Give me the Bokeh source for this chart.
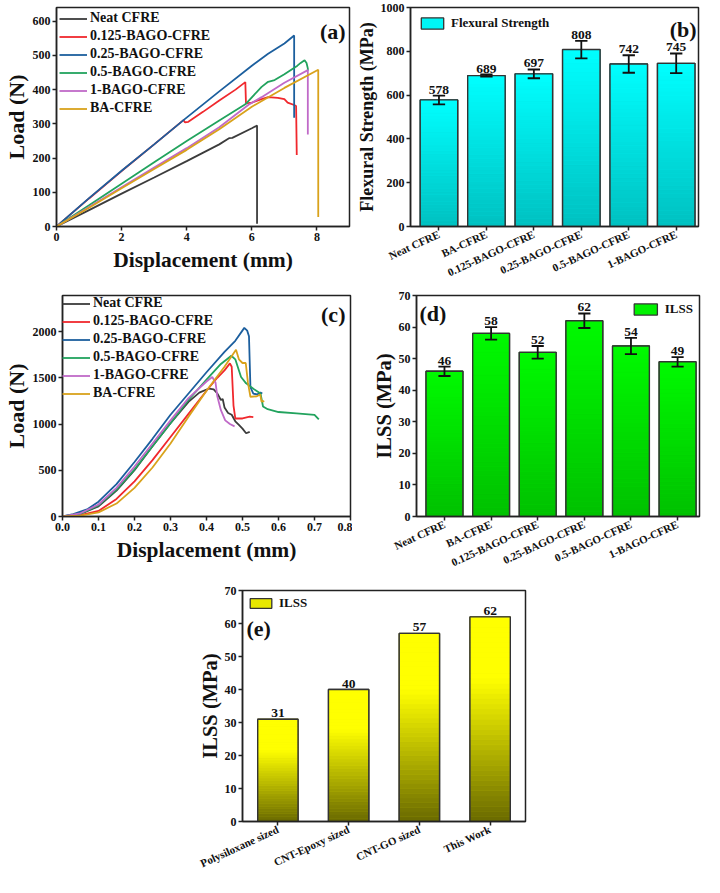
from bokeh.plotting import figure
from bokeh.layouts import column, row
from bokeh.models import (Range1d, FixedTicker, Legend, LegendItem, Label, NumeralTickFormatter)
from bokeh.embed import file_html
from bokeh.resources import INLINE
from bokeh.core.properties import value

FONT = "Liberation Serif"
FONT_V = value(FONT)

# ---------------- data: panel (a) three-point bending ----------------
a_names = ["Neat CFRE", "0.125-BAGO-CFRE", "0.25-BAGO-CFRE", "0.5-BAGO-CFRE", "1-BAGO-CFRE", "BA-CFRE"]
neat_a_x = [0, 1, 2, 3, 4, 5.0, 5.25, 5.3, 5.4, 6.0, 6.16, 6.16]
neat_a_y = [0, 48, 96, 143, 191, 240, 255, 258, 259, 287, 295, 8]
r125_a_x = [0, 1, 2, 3, 3.9, 3.95, 4.05, 4.5, 5.0, 5.5, 5.8, 5.82, 6.0, 6.3, 6.5, 6.8, 7.0, 7.1, 7.3, 7.36, 7.38]
r125_a_y = [0, 82, 162, 240, 311, 304, 306, 335, 368, 400, 422, 360, 362, 372, 378, 376, 372, 362, 355, 352, 209]
r25_a_x = [0, 1, 2, 3, 3.93, 5, 6, 6.5, 7.0, 7.30, 7.30]
r25_a_y = [0, 83, 163, 240, 313, 395, 470, 505, 535, 558, 318]
r5_a_x = [0, 1, 2, 3, 4, 5, 5.8, 6.3, 6.5, 6.7, 7.0, 7.4, 7.5, 7.62, 7.68, 7.72, 7.72]
r5_a_y = [0, 62, 125, 188, 250, 310, 357, 408, 423, 428, 445, 470, 478, 486, 478, 462, 455]
r1_a_x = [0, 1, 2, 3, 4, 5, 5.9, 6.3, 7.0, 7.72, 7.72]
r1_a_y = [0, 57, 115, 172, 229, 290, 356, 378, 420, 457, 269]
ba_a_x = [0, 1, 2, 3, 4, 5, 6, 7, 8.04, 8.04]
ba_a_y = [0, 55, 112, 168, 224, 284, 350, 405, 458, 28]

# ---------------- data: panel (c) short-beam shear ----------------
neat_c_x = [0, 0.03, 0.06, 0.1, 0.15, 0.2, 0.25, 0.3, 0.35, 0.38, 0.407, 0.42, 0.43, 0.44, 0.445, 0.45, 0.46, 0.47, 0.48, 0.49, 0.5, 0.51, 0.52]
neat_c_y = [0, 15, 45, 110, 280, 500, 760, 1010, 1240, 1340, 1384, 1375, 1330, 1260, 1270, 1180, 1120, 1100, 1030, 990, 950, 900, 915]
r125_c_x = [0, 0.05, 0.1, 0.15, 0.2, 0.25, 0.3, 0.35, 0.4, 0.43, 0.45, 0.465, 0.47, 0.475, 0.48, 0.5, 0.52, 0.53]
r125_c_y = [0, 15, 60, 190, 380, 610, 860, 1110, 1360, 1500, 1580, 1656, 1620, 1200, 1060, 1060, 1080, 1075]
r25_c_x = [0, 0.03, 0.07, 0.1, 0.15, 0.2, 0.25, 0.3, 0.35, 0.4, 0.45, 0.48, 0.505, 0.513, 0.518, 0.522, 0.53, 0.54, 0.55, 0.555]
r25_c_y = [0, 25, 80, 160, 350, 590, 840, 1100, 1330, 1560, 1780, 1900, 2040, 2010, 1950, 1400, 1330, 1320, 1340, 1330]
r5_c_x = [0, 0.05, 0.1, 0.15, 0.2, 0.25, 0.3, 0.35, 0.4, 0.44, 0.469, 0.48, 0.496, 0.51, 0.531, 0.55, 0.557, 0.57, 0.6, 0.65, 0.7, 0.712]
r5_c_y = [0, 30, 120, 290, 510, 760, 1010, 1260, 1480, 1650, 1738, 1700, 1508, 1440, 1380, 1330, 1190, 1160, 1130, 1115, 1100, 1050]
r1_c_x = [0, 0.05, 0.1, 0.15, 0.2, 0.25, 0.3, 0.35, 0.4, 0.416, 0.425, 0.43, 0.44, 0.452, 0.465, 0.478]
r1_c_y = [0, 35, 130, 310, 540, 790, 1040, 1280, 1460, 1508, 1450, 1300, 1150, 1040, 1000, 975]
ba_c_x = [0, 0.05, 0.1, 0.15, 0.2, 0.25, 0.3, 0.35, 0.4, 0.45, 0.482, 0.49, 0.5, 0.509, 0.515, 0.522, 0.54, 0.549, 0.553, 0.557, 0.56]
ba_c_y = [0, 10, 45, 140, 310, 530, 790, 1080, 1360, 1620, 1803, 1700, 1660, 1660, 1450, 1295, 1300, 1320, 1240, 1250, 1240]

line_colors = ["#3c3c3c", "#f0282d", "#1c5f9e", "#22a35e", "#c06ac8", "#d9a21b"]

# ---------------- data: bar panels ----------------
b_cats = ["Neat CFRE", "BA-CFRE", "0.125-BAGO-CFRE", "0.25-BAGO-CFRE", "0.5-BAGO-CFRE", "1-BAGO-CFRE"]
b_vals = [578, 689, 697, 808, 742, 745]
b_err = [20, 5, 20, 40, 40, 45]
d_vals = [46, 58, 52, 62, 54, 49]
d_err = [1.5, 2, 2, 2.3, 2.6, 1.5]
e_cats = ["Polysiloxane sized", "CNT-Epoxy sized", "CNT-GO sized", "This Work"]
e_vals = [31, 40, 57, 62]


def make_fig(w, h, lb, rb, tb, bb, xr, yr):
    p = figure(width=w, height=h, min_border_left=lb, min_border_right=rb,
               min_border_top=tb, min_border_bottom=bb,
               x_range=Range1d(*xr), y_range=Range1d(*yr),
               output_backend="svg", toolbar_location=None)
    p.grid.visible = False
    p.outline_line_color = "#222222"
    p.outline_line_width = 1.5
    p.outline_line_alpha = 1.0
    p.background_fill_color = "white"
    p.border_fill_color = "white"
    for ax in p.axis:
        ax.axis_line_width = 1.5
        ax.axis_line_color = "#222222"
        ax.major_tick_line_width = 1.5
        ax.major_tick_line_color = "#222222"
        ax.major_tick_out = 4
        ax.major_tick_in = 0
        ax.minor_tick_line_color = None
        ax.major_label_text_font = FONT
        ax.major_label_text_font_style = "bold"
        ax.major_label_text_font_size = "12px"
        ax.major_label_text_color = "#111111"
        ax.major_label_standoff = 2
        ax.axis_label_text_font = FONT
        ax.axis_label_text_font_style = "bold"
        ax.axis_label_text_color = "#111111"
        ax.axis_label_standoff = 1
    return p


def panel_label(p, text, x, y, align="right"):
    p.add_layout(Label(x=x, y=y, text=text, text_font=FONT, text_font_style="bold",
                       text_font_size="22px", text_align=align, text_baseline="top",
                       text_color="#111111"))


def line_panel(p, series, margin):
    items = []
    for (name, xs, ys), col in zip(series, line_colors):
        r = p.line(xs, ys, line_color=col, line_width=1.8)
        items.append(LegendItem(label=name, renderers=[r]))
    leg = Legend(items=items, location="top_left", border_line_alpha=0, background_fill_alpha=0,
                 label_text_font=FONT, label_text_font_style="bold", label_text_font_size="14px",
                 label_text_color="#111111", glyph_width=28, glyph_height=15, label_height=15,
                 spacing=2, padding=0, margin=margin, label_standoff=3)
    p.add_layout(leg)


def lerp_col(c0, c1, f):
    return "#%02x%02x%02x" % tuple(int(round(c0[i] + (c1[i] - c0[i]) * f)) for i in range(3))


def bar_panel(p, cats, vals, width, c0, c1, knee, leg_label, leg_loc, leg_margin, gw, gh, errs=None):
    xs = list(range(len(cats)))
    mid = lerp_col(c0, c1, 0.85)
    base = p.quad(left=[x - width / 2 for x in xs], right=[x + width / 2 for x in xs],
                  bottom=0, top=vals, fill_color=mid, line_color="#333333", line_width=1.3)
    n = 40
    L, R, B, T, C = [], [], [], [], []
    for x, v in zip(xs, vals):
        for k in range(n):
            L.append(x - width / 2)
            R.append(x + width / 2)
            B.append(v * k / n)
            T.append(v * (k + 1) / n)
            C.append(lerp_col(c0, c1, min(1.0, ((k + 0.5) / n) / knee)))
    p.quad(left=L, right=R, bottom=B, top=T, fill_color=C, line_color=C, line_width=0.6)
    p.quad(left=[x - width / 2 for x in xs], right=[x + width / 2 for x in xs],
           bottom=0, top=vals, fill_color=None, line_color="#333333", line_width=1.4)
    if errs is not None:
        lo = [v - e for v, e in zip(vals, errs)]
        hi = [v + e for v, e in zip(vals, errs)]
        cw = 0.13
        p.segment(x0=xs, y0=lo, x1=xs, y1=hi, line_color="#111111", line_width=1.8)
        p.segment(x0=[x - cw for x in xs], y0=hi, x1=[x + cw for x in xs], y1=hi, line_color="#111111", line_width=1.8)
        p.segment(x0=[x - cw for x in xs], y0=lo, x1=[x + cw for x in xs], y1=lo, line_color="#111111", line_width=1.8)
        tops = hi
    else:
        tops = vals
    p.text(x=xs, y=tops, text=[str(v) for v in vals], text_font=FONT_V, text_font_style="bold",
           text_font_size="13.5px", text_align="center", text_baseline="bottom", y_offset=-2,
           text_color="#111111")
    leg = Legend(items=[LegendItem(label=leg_label, renderers=[base])], location=leg_loc,
                 border_line_alpha=0, background_fill_alpha=0,
                 label_text_font=FONT, label_text_font_style="bold", label_text_font_size="13px",
                 label_text_color="#111111", glyph_width=gw, glyph_height=gh, label_height=gh,
                 padding=0, margin=leg_margin, label_standoff=5)
    p.add_layout(leg)
    xa = p.xaxis[0]
    xa.ticker = FixedTicker(ticks=xs)
    xa.major_label_overrides = {i: c for i, c in enumerate(cats)}
    xa.major_label_orientation = 0.43
    xa.major_label_text_font_size = "11px"
    xa.major_label_standoff = 3


# ---------------- row 1 ----------------
pa = make_fig(352, 286, 54, 3, 7, 54, (0, 9), (0, 640))
line_panel(pa, [(a_names[0], neat_a_x, neat_a_y), (a_names[1], r125_a_x, r125_a_y),
                (a_names[2], r25_a_x, r25_a_y), (a_names[3], r5_a_x, r5_a_y),
                (a_names[4], r1_a_x, r1_a_y), (a_names[5], ba_a_x, ba_a_y)], 3)
pa.xaxis.ticker = FixedTicker(ticks=[0, 2, 4, 6, 8])
pa.yaxis.ticker = FixedTicker(ticks=[0, 100, 200, 300, 400, 500, 600])
pa.xaxis.axis_label = "Displacement (mm)"
pa.yaxis.axis_label = "Load (N)"
pa.xaxis.axis_label_text_font_size = "21.5px"
pa.yaxis.axis_label_text_font_size = "22px"
pa.xaxis.axis_label_standoff = 4
panel_label(pa, "(a)", 8.88, 606)

pb = make_fig(352, 286, 58, 6, 7, 54, (-0.6, 5.47), (0, 1000))
bar_panel(pb, b_cats, b_vals, 0.79, (0, 192, 192), (0, 255, 255), 1.0, "Flexural Strength",
          "top_left", 8, 28, 14, b_err)
pb.yaxis.ticker = FixedTicker(ticks=[0, 200, 400, 600, 800, 1000])
pb.yaxis.axis_label = "Flexural Strength (MPa)"
pb.yaxis.axis_label_text_font_size = "18px"
panel_label(pb, "(b)", 5.43, 956)

# ---------------- row 2 ----------------
pc = make_fig(352, 290, 61, 2, 9, 56, (0, 0.8), (0, 2390))
line_panel(pc, [(a_names[0], neat_c_x, neat_c_y), (a_names[1], r125_c_x, r125_c_y),
                (a_names[2], r25_c_x, r25_c_y), (a_names[3], r5_c_x, r5_c_y),
                (a_names[4], r1_c_x, r1_c_y), (a_names[5], ba_c_x, ba_c_y)], 0)
pc.xaxis.ticker = FixedTicker(ticks=[0, 0.1, 0.2, 0.3, 0.4, 0.5, 0.6, 0.7, 0.8])
pc.xaxis.formatter = NumeralTickFormatter(format="0.0")
pc.yaxis.ticker = FixedTicker(ticks=[0, 500, 1000, 1500, 2000])
pc.xaxis.axis_label = "Displacement (mm)"
pc.yaxis.axis_label = "Load (N)"
pc.xaxis.axis_label_text_font_size = "21.5px"
pc.yaxis.axis_label_text_font_size = "22px"
pc.xaxis.axis_label_standoff = 4
panel_label(pc, "(c)", 0.786, 2317)

pd_ = make_fig(352, 290, 64, 5, 9, 56, (-0.6, 5.47), (0, 70))
bar_panel(pd_, b_cats, d_vals, 0.79, (0, 192, 0), (0, 250, 0), 1.0, "ILSS", "top_right", 6, 29, 14, d_err)
pd_.yaxis.ticker = FixedTicker(ticks=[0, 10, 20, 30, 40, 50, 60, 70])
pd_.yaxis.axis_label = "ILSS (MPa)"
pd_.yaxis.axis_label_text_font_size = "20.5px"
panel_label(pd_, "(d)", -0.535, 68.2, align="left")

# ---------------- row 3 ----------------
pe = make_fig(704, 301, 242, 179, 14, 56, (-0.5, 3.5), (0, 70))
bar_panel(pe, e_cats, e_vals, 0.57, (105, 105, 0), (255, 255, 0), 0.7, "ILSS", "top_left", 5, 27, 12, None)
pe.yaxis.ticker = FixedTicker(ticks=[0, 10, 20, 30, 40, 50, 60, 70])
pe.yaxis.axis_label = "ILSS (MPa)"
pe.yaxis.axis_label_text_font_size = "20.5px"
panel_label(pe, "(e)", -0.443, 62.4, align="left")

layout = column(row(pa, pb), row(pc, pd_), pe)
open("out.html", "w").write(file_html(layout, INLINE))
